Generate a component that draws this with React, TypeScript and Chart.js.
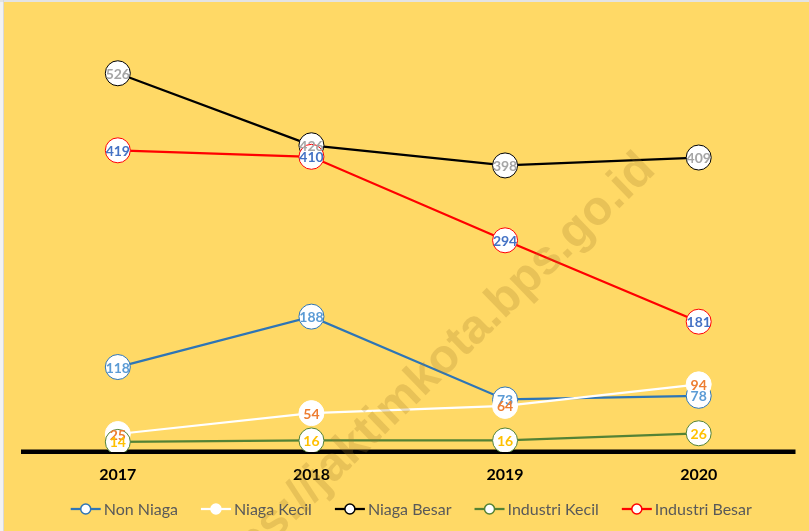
import React, { useEffect, useRef } from "react";
import { Chart, registerables } from "chart.js";

Chart.register(...registerables);

// ---------- data ----------
const years: string[] = ["2017", "2018", "2019", "2020"];
const nonNiaga: number[] = [118, 188, 73, 78];
const niagaKecil: number[] = [25, 54, 64, 94];
const niagaBesar: number[] = [526, 426, 398, 409];
const industriKecil: number[] = [14, 16, 16, 26];
const industriBesar: number[] = [419, 410, 294, 181];
const seriesNames: string[] = ["Non Niaga", "Niaga Kecil", "Niaga Besar", "Industri Kecil", "Industri Besar"];
const seriesValues: number[][] = [nonNiaga, niagaKecil, niagaBesar, industriKecil, industriBesar];
const lineColors: string[] = ["#2E75B6", "#FFFFFF", "#000000", "#548235", "#FF0000"];
const labelColors: string[] = ["#5B9BD5", "#ED7D31", "#A5A5A5", "#FFC000", "#4472C4"];
const yMin = 0;
const yMax = 600;
const watermarkText = "https://jaktimkota.bps.go.id";

const FONT = "Lato, 'Open Sans', sans-serif";

const backgroundPlugin = {
  id: "bgPlugin",
  beforeDraw(chart: any) {
    const { ctx, width, height } = chart;
    ctx.save();
    ctx.fillStyle = "#FFD966";
    ctx.fillRect(0, 0, width, height);
    ctx.fillStyle = "#F2F2F2";
    ctx.fillRect(0, 0, 3, height);
    ctx.fillStyle = "#E3E3E3";
    ctx.fillRect(0, 0, width, 2);
    ctx.fillStyle = "#D9D9D9";
    ctx.fillRect(3, 0, 1, height);
    ctx.restore();
  },
};

const baselinePlugin = {
  id: "baseline",
  beforeDatasetsDraw(chart: any) {
    const { ctx, chartArea } = chart;
    ctx.save();
    ctx.strokeStyle = "#000000";
    ctx.lineWidth = 4.5;
    ctx.beginPath();
    ctx.moveTo(chartArea.left, chartArea.bottom - 0.3);
    ctx.lineTo(chartArea.right, chartArea.bottom - 0.3);
    ctx.stroke();
    ctx.restore();
  },
};

const labelPlugin = {
  id: "valueLabels",
  afterDatasetsDraw(chart: any) {
    const { ctx } = chart;
    ctx.save();
    ctx.font = `bold 14px ${FONT}`;
    ctx.textAlign = "center";
    ctx.textBaseline = "middle";
    chart.data.datasets.forEach((ds: any, i: number) => {
      const meta = chart.getDatasetMeta(i);
      meta.data.forEach((pt: any, j: number) => {
        ctx.fillStyle = labelColors[i];
        ctx.fillText(String(ds.data[j]), pt.x, pt.y + 1);
      });
    });
    ctx.restore();
  },
};

const legendPlugin = {
  id: "customLegend",
  afterDraw(chart: any) {
    const { ctx, chartArea } = chart;
    ctx.save();
    ctx.font = `16px ${FONT}`;
    ctx.textBaseline = "middle";
    ctx.textAlign = "left";
    const lineLen = 30;
    const gapText = 3;
    const gapItem = 23;
    const widths = seriesNames.map((n) => lineLen + gapText + ctx.measureText(n).width);
    const total = widths.reduce((a, b) => a + b, 0) + gapItem * (seriesNames.length - 1);
    let x = (chartArea.left + chartArea.right) / 2 + 3 - total / 2;
    const y = 509;
    seriesNames.forEach((name, i) => {
      ctx.strokeStyle = lineColors[i];
      ctx.lineWidth = 2.25;
      ctx.beginPath();
      ctx.moveTo(x, y);
      ctx.lineTo(x + lineLen, y);
      ctx.stroke();
      ctx.beginPath();
      ctx.arc(x + lineLen / 2, y, 5, 0, Math.PI * 2);
      ctx.fillStyle = "#FFFFFF";
      ctx.fill();
      ctx.lineWidth = 1.5;
      ctx.stroke();
      ctx.fillStyle = "#595959";
      ctx.fillText(name, x + lineLen + gapText, y + 1);
      x += widths[i] + gapItem;
    });
    ctx.restore();
  },
};

const watermarkPlugin = {
  id: "watermark",
  afterDraw(chart: any) {
    const { ctx } = chart;
    ctx.save();
    ctx.translate(648, 162);
    ctx.rotate((-44 * Math.PI) / 180);
    ctx.font = `bold 48px 'Liberation Sans', Arial, sans-serif`;
    ctx.textAlign = "right";
    ctx.textBaseline = "middle";
    ctx.fillStyle = "rgba(160,120,40,0.24)";
    ctx.fillText(watermarkText, 0, 0);
    ctx.restore();
  },
};

export default function App() {
  const canvasRef = useRef<HTMLCanvasElement | null>(null);

  useEffect(() => {
    if (!canvasRef.current) return;
    const chart = new Chart(canvasRef.current, {
      type: "line",
      data: {
        labels: years,
        datasets: seriesValues.map((vals, i) => ({
          label: seriesNames[i],
          data: vals,
          borderColor: lineColors[i],
          borderWidth: 2.25,
          backgroundColor: "#FFFFFF",
          pointBackgroundColor: "#FFFFFF",
          pointBorderColor: lineColors[i],
          pointBorderWidth: 1,
          pointRadius: 12.5,
          pointHoverRadius: 12.5,
          tension: 0,
          fill: false,
          order: seriesNames.length - 1 - i,
        })),
      },
      options: {
        animation: false,
        responsive: false,
        devicePixelRatio: 1,
        layout: { padding: { left: 21, right: 12, top: 20, bottom: 0 } },
        plugins: {
          legend: { display: false },
          tooltip: { enabled: false },
          title: { display: false },
        },
        scales: {
          x: {
            type: "category",
            offset: true,
            grid: { display: false, drawTicks: false },
            border: { display: false },
            ticks: {
              color: "#000000",
              padding: 13,
              font: { family: FONT, size: 16, weight: "bold" },
            },
            afterFit: (s: any) => {
              s.height = 79;
            },
          },
          y: {
            display: false,
            min: yMin,
            max: yMax,
          },
        },
      },
      plugins: [backgroundPlugin, baselinePlugin, labelPlugin, legendPlugin, watermarkPlugin],
    } as any);
    return () => chart.destroy();
  }, []);

  return (
    <div style={{ position: "fixed", left: 0, top: 0, width: 809, height: 531 }}>
      <canvas ref={canvasRef} width={809} height={531} style={{ display: "block" }} />
    </div>
  );
}
